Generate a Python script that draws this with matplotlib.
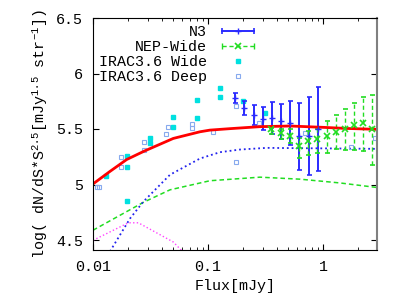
import numpy as np
import matplotlib
matplotlib.use("Agg")
import matplotlib.pyplot as plt
from matplotlib.lines import Line2D
from matplotlib.legend_handler import HandlerLine2D, HandlerTuple

plt.rcParams['font.family'] = ['Liberation Mono', 'DejaVu Sans Mono']
plt.rcParams['mathtext.default'] = 'regular'
plt.rcParams['font.size'] = 10.8

# N3 counts (error bars)
n3_flux = [0.172, 0.207, 0.250, 0.299, 0.360, 0.431, 0.517, 0.622, 0.757, 0.910]
n3_logn = [5.777, 5.689, 5.625, 5.594, 5.598, 5.568, 5.550, 5.434, 5.438, 5.500]
n3_err = [0.047, 0.065, 0.091, 0.106, 0.141, 0.156, 0.198, 0.303, 0.350, 0.375]

# NEP-Wide counts
nep_flux = [0.353, 0.431, 0.517, 0.622, 0.745, 0.892, 1.077, 1.297, 1.553, 1.861, 2.24, 2.68]
nep_logn = [5.497, 5.466, 5.436, 5.345, 5.391, 5.406, 5.436, 5.473, 5.497, 5.536, 5.552, 5.497]
nep_lo = [0.045, 0.060, 0.061, 0.106, 0.121, 0.122, 0.152, 0.157, 0.182, 0.221, 0.252, 0.318]
nep_hi = [0.015, 0.036, 0.061, 0.075, 0.091, 0.096, 0.136, 0.152, 0.182, 0.197, 0.239, 0.312]

# IRAC3.6 Wide (filled squares)
wide_flux = [0.01297, 0.01976, 0.01976, 0.01976, 0.0313, 0.0313, 0.0499, 0.0499,
             0.0798, 0.0798, 0.127, 0.127, 0.200, 0.313]
wide_logn = [5.073, 5.261, 5.155, 4.852, 5.421, 5.375, 5.612, 5.518,
             5.764, 5.597, 5.870, 5.785, 5.748, 5.648]

# IRAC3.6 Deep (open squares)
deep_flux = [0.01077, 0.01128, 0.0174, 0.0174, 0.02777, 0.02777, 0.0431, 0.0446,
             0.0722, 0.0722, 0.1112, 0.174, 0.174, 0.279, 0.697, 1.741, 2.83]
deep_logn = [4.973, 4.973, 5.245, 5.157, 5.385, 5.309, 5.452, 5.518,
             5.543, 5.512, 5.473, 5.703, 5.203, 5.557, 5.461, 5.339, 5.418]

# model curves
tot_flux = [0.01, 0.01405, 0.01963, 0.0278, 0.0499, 0.0852, 0.104, 0.155, 0.282, 0.519, 1.0, 1.6, 2.95]
tot_logn = [5.005, 5.118, 5.225, 5.300, 5.415, 5.475, 5.490, 5.503, 5.521, 5.527, 5.515, 5.505, 5.497]

blue_flux = [0.01405, 0.0210, 0.02738, 0.04673, 0.0852, 0.127, 0.19, 0.324, 0.631, 1.2, 2.95]
blue_logn = [4.397, 4.694, 4.845, 5.088, 5.234, 5.291, 5.315, 5.330, 5.327, 5.325, 5.321]

green_flux = [0.01, 0.0274, 0.0467, 0.104, 0.283, 0.631, 1.406, 2.95]
green_logn = [4.588, 4.839, 4.952, 5.034, 5.066, 5.048, 5.014, 4.973]

mag_flux = [0.01, 0.0203, 0.0248, 0.0499, 0.061]
mag_logn = [4.497, 4.655, 4.655, 4.482, 4.390]

fig = plt.figure(figsize=(4, 3), dpi=100)
ax = fig.add_axes([0.2325, 0.1667, 0.71, 0.7733])

ax.plot(mag_flux, mag_logn, ':', color='#ff44ff', lw=1)
ax.plot(green_flux, green_logn, '--', color='#22dd22', lw=1.1, dashes=(3, 2))
ax.plot(blue_flux, blue_logn, ':', color='#2222ee', lw=1.3)

ax.plot(deep_flux, deep_logn, 's', ms=3, mfc='none', mec='#88aaee', mew=0.8, ls='none')
ax.plot(wide_flux, wide_logn, 's', ms=2.5, color='#00e0e0', ls='none')

ax.errorbar(n3_flux, n3_logn, yerr=n3_err, fmt='+', color='#2a2aff', ms=5,
            elinewidth=1.4, capsize=1.8, capthick=1.2)
eb = ax.errorbar(nep_flux, nep_logn, yerr=[nep_lo, nep_hi], fmt='x', color='#22dd22',
                 ms=4, mew=1.2, elinewidth=1, capsize=1.8, capthick=1)
for lc in eb[2]:
    lc.set_linestyle((0, (3, 2)))

ax.plot(tot_flux, tot_logn, '-', color='#ff0000', lw=2)

ax.set_xscale('log')
ax.set_xlim(0.01, 2.95)
ax.set_ylim(4.41, 6.5)
ax.set_xticks([0.01, 0.1, 1])
ax.set_xticklabels(['0.01', '0.1', '1'])
ax.set_yticks([4.5, 5, 5.5, 6, 6.5])
ax.set_yticklabels(['4.5', '5', '5.5', '6', '6.5'])
ax.tick_params(which='both', direction='in', top=True, right=True)
ax.tick_params(which='major', length=4, pad=7)
ax.tick_params(which='minor', length=2)
ax.spines['right'].set_color('#808080')
ax.spines['right'].set_linewidth(1.5)

ax.set_xlabel('Flux[mJy]', labelpad=4)
ax.set_ylabel('log( dN/dS*S$^{2.5}$[mJy$^{1.5}$ str$^{-1}$])')
ax.yaxis.set_label_coords(-0.152, 0.5)

# gnuplot-style legend handles
n3_ends = Line2D([], [], color='#2a2aff', lw=1.4, marker='|', ms=5, mew=1.2)
n3_mid = Line2D([], [], color='#2a2aff', lw=0, marker='+', ms=5)
nep_ends = Line2D([], [], color='#22dd22', lw=1, ls=(0, (3, 2)), marker='|', ms=5)
nep_mid = Line2D([], [], color='#22dd22', lw=0, marker='x', ms=4, mew=1.2)
wide_h = Line2D([], [], color='#00e0e0', lw=0, marker='s', ms=2.5)
deep_h = Line2D([], [], lw=0, marker='s', ms=3, mfc='none', mec='#88aaee', mew=0.8)

hm = {n3_ends: HandlerLine2D(numpoints=2), nep_ends: HandlerLine2D(numpoints=2),
      n3_mid: HandlerLine2D(numpoints=1), nep_mid: HandlerLine2D(numpoints=1),
      tuple: HandlerTuple(ndivide=1)}
ax.legend([(n3_ends, n3_mid), (nep_ends, nep_mid), wide_h, deep_h],
          ['N3', 'NEP-Wide', 'IRAC3.6 Wide', 'IRAC3.6 Deep'],
          handler_map=hm, loc='upper right', bbox_to_anchor=((262 - 93) / 284 + 0.01, 1.0),
          frameon=False, markerfirst=False, handlelength=2.7, handletextpad=0.7,
          labelspacing=0.08, borderaxespad=0.0, borderpad=0.45)

fig.savefig('out.png', dpi=100)
